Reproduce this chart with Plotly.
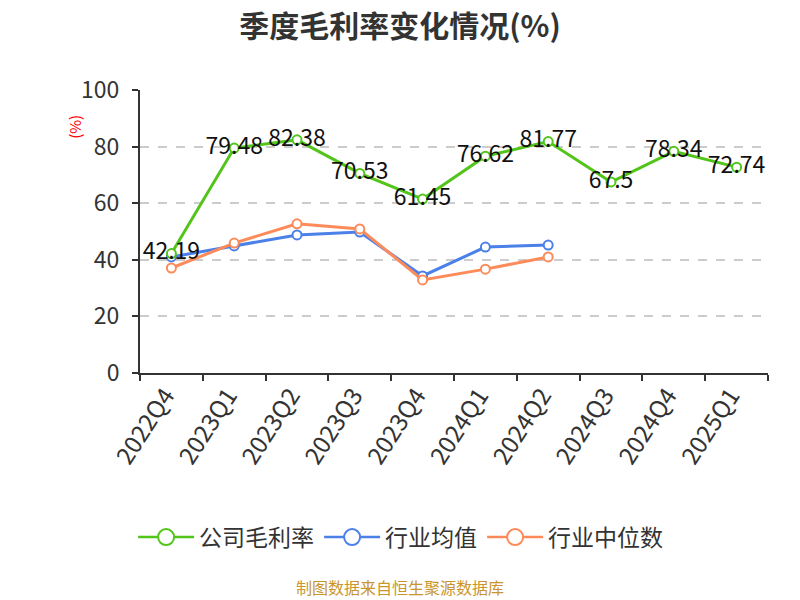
import plotly.graph_objects as go

quarters = ["2022Q4", "2023Q1", "2023Q2", "2023Q3", "2023Q4", "2024Q1", "2024Q2", "2024Q3", "2024Q4", "2025Q1"]
company = [42.19, 79.48, 82.38, 70.53, 61.45, 76.62, 81.77, 67.5, 78.34, 72.74]
company_labels = ["42.19", "79.48", "82.38", "70.53", "61.45", "76.62", "81.77", "67.5", "78.34", "72.74"]
industry_avg = [41.0, 44.9, 48.8, 49.8, 34.3, 44.5, 45.2]
industry_median = [37.1, 45.9, 52.7, 50.9, 32.9, 36.7, 41.0]
series_names = ["公司毛利率", "行业均值", "行业中位数"]

GREEN = "#52c41a"
BLUE = "#4a80e8"
ORANGE = "#fd8b5a"
FONT = "Noto Sans CJK SC"

fig = go.Figure()

def add_line(name, x, y, color, rank, text=None):
    fig.add_trace(go.Scatter(
        x=x, y=y, name=name, legendrank=rank,
        mode="lines+markers+text" if text else "lines+markers",
        text=text, textposition="middle center",
        textfont=dict(size=23, color="#111111", family=FONT),
        line=dict(color=color, width=3),
        marker=dict(symbol="circle", size=9, color="white", line=dict(color=color, width=2)),
        cliponaxis=False, showlegend=False,
    ))
    # legend entry with larger symbol
    fig.add_trace(go.Scatter(
        x=[None], y=[None], name=name, legendrank=rank, mode="lines+markers",
        line=dict(color=color, width=2.5),
        marker=dict(symbol="circle", size=16, color="white", line=dict(color=color, width=2)),
        showlegend=True,
    ))

add_line(series_names[1], quarters[:len(industry_avg)], industry_avg, BLUE, 2)
add_line(series_names[2], quarters[:len(industry_median)], industry_median, ORANGE, 3)
add_line(series_names[0], quarters, company, GREEN, 1, company_labels)

fig.update_layout(
    width=800, height=600,
    margin=dict(l=132, r=40, t=82, b=235),
    paper_bgcolor="white", plot_bgcolor="white",
    font=dict(family=FONT, color="#333333"),
    title=dict(text="<b>季度毛利率变化情况(%)</b>", x=0.49, xanchor="center", y=0.97, yanchor="middle",
               font=dict(size=30, color="#333333", family=FONT)),
    showlegend=True,
    legend=dict(orientation="h", x=0.415, xanchor="center", y=-0.58, yanchor="middle",
                font=dict(size=23, color="#333333", family=FONT), traceorder="normal",
                itemwidth=56),
    xaxis=dict(
        type="category", categoryorder="array", categoryarray=quarters,
        range=[-0.5, len(quarters) - 0.5],
        showline=True, linecolor="#333333", linewidth=2,
        ticks="outside", tickson="boundaries", ticklen=6, tickcolor="#333333", tickwidth=2,
        tickangle=-57, tickfont=dict(size=24, color="#333333", family=FONT),
        ticklabelshift=-6, ticklabelstandoff=-3,
        showgrid=False, zeroline=False,
    ),
    yaxis=dict(
        range=[0, 100], dtick=20,
        showline=True, linecolor="#333333", linewidth=2,
        ticks="outside", ticklen=6, tickcolor="#333333", tickwidth=2,
        tickfont=dict(size=23, color="#333333", family=FONT),
        ticklabelstandoff=8,
        showgrid=True, gridcolor="#cccccc", griddash="dash", gridwidth=1.5,
        zeroline=False,
    ),
)

fig.add_annotation(text="(%)", xref="paper", yref="paper", x=-0.1035, y=0.87,
                   xanchor="center", yanchor="middle",
                   textangle=-90, showarrow=False,
                   font=dict(size=15, color="red", family=FONT))
fig.add_annotation(text="制图数据来自恒生聚源数据库", xref="paper", yref="paper",
                   x=0.414, y=-0.757, xanchor="center", yanchor="middle", showarrow=False,
                   font=dict(size=16, color="#c8952e", family=FONT))

fig.write_html("out.html")
